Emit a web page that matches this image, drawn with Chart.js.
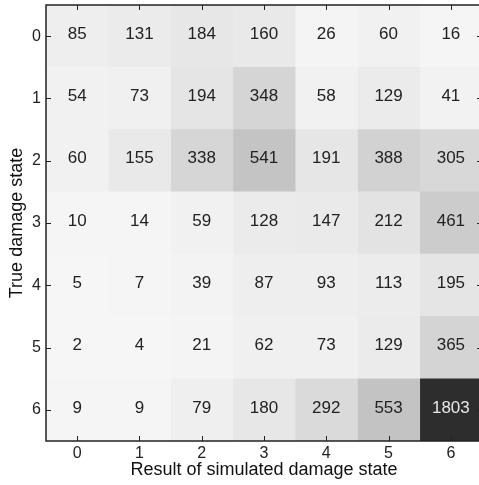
<!DOCTYPE html>
<html>
<head>
<meta charset="utf-8">
<script src="https://cdn.jsdelivr.net/npm/chart.js@4/dist/chart.umd.min.js"></script>
<style>
  html, body { margin: 0; padding: 0; background: #fff; overflow: hidden; }
  #wrap { width: 484px; height: 485px; position: relative; }
</style>
</head>
<body>
<div id="wrap"><canvas id="c"></canvas></div>
<script>
// Confusion matrix: rows = true damage state, columns = simulated damage state
const trueStates = ['0', '1', '2', '3', '4', '5', '6'];
const simulatedStates = ['0', '1', '2', '3', '4', '5', '6'];
const row0 = [85, 131, 184, 160, 26, 60, 16];
const row1 = [54, 73, 194, 348, 58, 129, 41];
const row2 = [60, 155, 338, 541, 191, 388, 305];
const row3 = [10, 14, 59, 128, 147, 212, 461];
const row4 = [5, 7, 39, 87, 93, 113, 195];
const row5 = [2, 4, 21, 62, 73, 129, 365];
const row6 = [9, 9, 79, 180, 292, 553, 1803];
const counts = [row0, row1, row2, row3, row4, row5, row6];

const maxCount = Math.max(...counts.flat());

// Grey ramp: fraction of the maximum -> grey level
const greyStops = [[0, 246], [0.05, 238], [0.1, 231], [0.17, 216], [0.25, 205], [0.3, 196], [0.5, 152], [0.75, 98], [1, 45]];
function greyFor(v) {
  const t = v / maxCount;
  for (let k = 1; k < greyStops.length; k++) {
    const [t0, g0] = greyStops[k - 1];
    const [t1, g1] = greyStops[k];
    if (t <= t1) {
      const g = Math.round(g0 + (g1 - g0) * (t - t0) / (t1 - t0));
      return `rgb(${g},${g},${g})`;
    }
  }
  return 'rgb(45,45,45)';
}

// One floating-bar dataset per simulated state column, spanning [j-0.5, j+0.5]
const datasets = simulatedStates.map((s, j) => ({
  label: s,
  data: trueStates.map(() => [j - 0.5, j + 0.5]),
  backgroundColor: trueStates.map((_, i) => greyFor(counts[i][j])),
  borderWidth: 0,
  grouped: false,
  barPercentage: 1,
  categoryPercentage: 1
}));

const FONT = '"Liberation Sans", Arial, sans-serif';

const cellLabels = {
  id: 'cellLabels',
  afterDatasetsDraw(chart) {
    const ctx = chart.ctx;
    ctx.save();
    ctx.font = '17px ' + FONT;
    ctx.textAlign = 'center';
    ctx.textBaseline = 'middle';
    chart.data.datasets.forEach((ds, j) => {
      chart.getDatasetMeta(j).data.forEach((el, i) => {
        const v = counts[i][j];
        const p = el.getCenterPoint();
        ctx.fillStyle = v / maxCount > 0.6 ? '#e8e8e8' : '#222';
        ctx.fillText(String(v), p.x, p.y - 2);
      });
    });
    ctx.restore();
  }
};

// Axes frame with inward tick marks on all four sides
const frame = {
  id: 'frame',
  afterDraw(chart) {
    const { ctx, chartArea: a, scales } = chart;
    ctx.save();
    ctx.strokeStyle = '#222';
    ctx.lineWidth = 1;
    const tl = 5;
    ctx.beginPath();
    scales.x.ticks.forEach(t => {
      const x = Math.round(scales.x.getPixelForValue(t.value)) + 0.5;
      ctx.moveTo(x, a.bottom); ctx.lineTo(x, a.bottom - tl);
      ctx.moveTo(x, a.top); ctx.lineTo(x, a.top + tl);
    });
    trueStates.forEach((_, i) => {
      const y = Math.round(scales.y.getPixelForValue(i)) + 0.5;
      ctx.moveTo(a.left, y); ctx.lineTo(a.left + tl, y);
      ctx.moveTo(a.right, y); ctx.lineTo(a.right - tl, y);
    });
    ctx.stroke();
    ctx.lineWidth = 1.5;
    ctx.strokeRect(a.left, a.top, a.right - a.left, a.bottom - a.top);
    ctx.restore();
  }
};

new Chart(document.getElementById('c'), {
  type: 'bar',
  data: { labels: trueStates, datasets },
  options: {
    indexAxis: 'y',
    responsive: true,
    maintainAspectRatio: false,
    animation: false,
    layout: { padding: { top: 5, right: 2, left: 0, bottom: 0 } },
    plugins: { legend: { display: false }, tooltip: { enabled: false } },
    scales: {
      x: {
        type: 'linear',
        min: -0.5,
        max: 6.5,
        afterBuildTicks(scale) {
          scale.ticks = simulatedStates.map((_, j) => ({ value: j }));
        },
        afterFit(scale) {
          scale.height = 44;
          scale.paddingLeft = 0;
          scale.paddingRight = 0;
        },
        grid: { display: false, drawTicks: false },
        border: { display: false },
        ticks: {
          padding: 3,
          color: '#222',
          font: { family: FONT, size: 16 },
          callback: (v) => simulatedStates[v]
        },
        title: {
          display: true,
          text: 'Result of simulated damage state',
          color: '#111',
          font: { family: FONT, size: 18 },
          padding: { top: 0, bottom: 4 }
        }
      },
      y: {
        type: 'category',
        afterFit(scale) {
          scale.width = 46;
          scale.paddingTop = 0;
          scale.paddingBottom = 0;
        },
        grid: { display: false, drawTicks: false },
        border: { display: false },
        ticks: {
          padding: 5,
          color: '#222',
          font: { family: FONT, size: 16 }
        },
        title: {
          display: true,
          text: 'True damage state',
          color: '#111',
          font: { family: FONT, size: 18 },
          padding: { top: 6, bottom: 0 }
        }
      }
    }
  },
  plugins: [cellLabels, frame]
});
</script>
</body>
</html>
